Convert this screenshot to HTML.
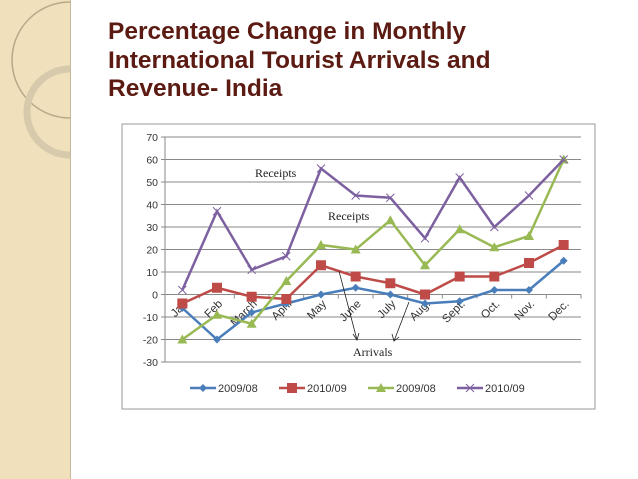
<!DOCTYPE html>
<html><head><meta charset="utf-8"><style>
body{margin:0;width:638px;height:479px;background:#fff;position:relative;overflow:hidden;font-family:"Liberation Sans",sans-serif}
#side{position:absolute;left:0;top:0;width:70px;height:479px;background:#f1e0bc;border-right:1px solid #c8b89a}
#title{position:absolute;left:108px;top:18px;font-size:24.5px;font-weight:bold;color:#5b1a12;line-height:28.5px}
</style></head><body>
<div id="side">
<svg width="70" height="160"><circle cx="70" cy="60" r="58" fill="none" stroke="#b8a888" stroke-width="1.5"/><circle cx="70" cy="112" r="43" fill="none" stroke="#d6c9ac" stroke-width="7"/></svg>
</div>
<div id="title">Percentage Change in Monthly<br>International Tourist Arrivals and<br>Revenue- India</div>
<svg id="chart" width="638" height="479" style="position:absolute;left:0;top:0"></svg>
<script>
const months=["Jan","Feb","March","April","May","June","July","Aug.","Sept.","Oct.","Nov.","Dec."];
const ticks=[70,60,50,40,30,20,10,0,-10,-20,-30];
const arrivals0908=[-6,-20,-8,-4,0,3,0,-4,-3,2,2,15];
const arrivals1009=[-4,3,-1,-2,13,8,5,0,8,8,14,22];
const receipts0908=[-20,-9,-13,6,22,20,33,13,29,21,26,60];
const receipts1009=[2,37,11,17,56,44,43,25,52,30,44,60];
const names=["2009/08","2010/09","2009/08","2010/09"];
const NS="http://www.w3.org/2000/svg";
const svg=document.getElementById('chart');
function el(t,a,p){const e=document.createElementNS(NS,t);for(const k in a)e.setAttribute(k,a[k]);(p||svg).appendChild(e);return e;}
const x0=165,x1=581,yTop=137,yBot=362,vMax=70,vMin=-30;
const cw=(x1-x0)/months.length;
const X=i=>x0+cw*(i+0.5);
const Y=v=>yTop+(vMax-v)*(yBot-yTop)/(vMax-vMin);
const box=el('rect',{x:122,y:124,width:473,height:285,fill:'#fff',stroke:'#999'});


ticks.forEach(t=>{
 const g=el('line',{x1:x0-4,x2:x1,y1:Y(t),y2:Y(t),stroke:'#8a8a8a','stroke-width':1});
 
 
 const l=el('text',{x:x0-7,y:Y(t)+4,'text-anchor':'end','font-size':10.5,fill:'#333'});l.textContent=t;
 
 
});
el('line',{x1:x0,x2:x0,y1:yTop,y2:yBot,stroke:'#8a8a8a'});
months.forEach((m,i)=>{
 el('line',{x1:x0+cw*(i+1),x2:x0+cw*(i+1),y1:Y(0),y2:Y(0)+4,stroke:'#8a8a8a'});
 const t=el('text',{x:X(i)+6,y:Y(0)+10,'text-anchor':'end','font-size':11.5,fill:'#333',transform:`rotate(-45 ${X(i)+6} ${Y(0)+10})`});t.textContent=m;
 
 
});
const series=[[arrivals0908,'#4a7ebb','diamond'],[arrivals1009,'#be4b48','square'],[receipts0908,'#98b954','triangle'],[receipts1009,'#7d60a0','x']];
function marker(type,x,y,c,p){
 if(type==='diamond')el('polygon',{points:`${x},${y-4} ${x+4},${y} ${x},${y+4} ${x-4},${y}`,fill:c},p);
 else if(type==='square')el('rect',{x:x-5,y:y-5,width:10,height:10,fill:c},p);
 else if(type==='triangle')el('polygon',{points:`${x},${y-5} ${x+5},${y+4} ${x-5},${y+4}`,fill:c},p);
 else{el('path',{d:`M${x-4},${y-4}L${x+4},${y+4}M${x-4},${y+4}L${x+4},${y-4}`,stroke:c,'stroke-width':1},p);}
}
series.forEach((s,k)=>{
 const g=el('g',{});
 
 
 el('polyline',{points:s[0].map((v,i)=>X(i)+','+Y(v)).join(' '),fill:'none',stroke:s[1],'stroke-width':2.5},g);
 s[0].forEach((v,i)=>marker(s[2],X(i),Y(v),s[1],g));
 const lx=190+k*89,ly=388;
 const lg=el('g',{});
 
 
 el('line',{x1:lx,x2:lx+26,y1:ly,y2:ly,stroke:s[1],'stroke-width':2.5},lg);
 marker(s[2],lx+13,ly,s[1],lg);
 const t=el('text',{x:lx+28,y:ly+4,'font-size':11,fill:'#333'},lg);t.textContent=names[k];
});
function ann(txt,x,y){const t=el('text',{x:x,y:y,'font-size':12,'font-family':'Liberation Serif,serif',fill:'#222'});t.textContent=txt;
 
 }
ann('Receipts',255,177);ann('Receipts',328,220);ann('Arrivals',353,356);
el('path',{d:'M339,271L357,340M353,334L357,340L359,333M409,302L394,341M392,334L394,341L399,337',stroke:'#222','stroke-width':0.8,fill:'none'});
</script>
</body></html>
